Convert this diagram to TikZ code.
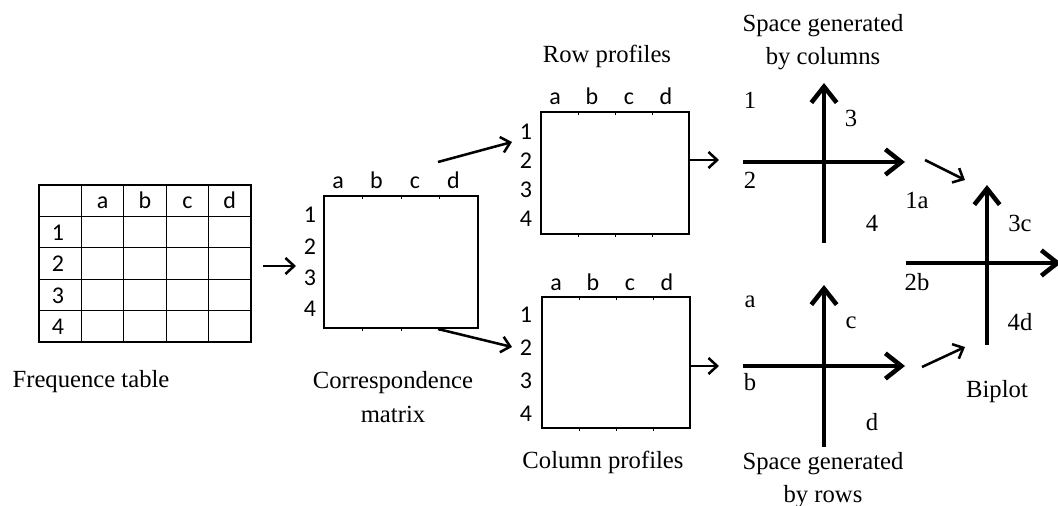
\documentclass[tikz,border=0pt]{standalone}
\usepackage{fontspec}
\setmainfont{Liberation Serif}
\newfontfamily\calibri{Carlito}
\usetikzlibrary{positioning, arrows.meta, calc}

\begin{document}
\begin{tikzpicture}[
    x=0.75pt, y=-0.75pt,
    >={Straight Barb[length=6.5pt, width=12pt]},
    txt/.style={font=\fontsize{18.5}{25}\selectfont, align=center},
    lab/.style={font=\calibri\fontsize{18}{22}\selectfont, text height=14pt, text depth=2pt},
    box/.style={draw, line width=0.8pt, inner sep=0pt},
    link/.style={->, line width=1.9pt},
    axis/.style={->, line width=3.4pt, >={Straight Barb[length=12pt, width=19pt]}}
]
\useasboundingbox (0,0) rectangle (1058,506);

% frequence table
\node[box, minimum width=159pt, minimum height=117.75pt] (freq) at (145,263.5) {};
\foreach \i in {1,...,4} {
    \draw[line width=0.8pt] (39+42.4*\i,185) -- (39+42.4*\i,342);
    \draw[line width=0.8pt] (39,185+31.4*\i) -- (251,185+31.4*\i);
}
\foreach \c [count=\i] in {a,b,c,d}
    \node[lab] at (60.2+42.4*\i,201) {\c};
\foreach \r in {1,...,4}
    \node[lab] at (58,201+31.4*\r) {\r};
\node[txt] (freqcap) at (91,382) {Frequence table};

% correspondence matrix
\node[box, minimum width=115.5pt, minimum height=99pt] (corr) at (401,262) {};
\foreach \c [count=\i] in {a,b,c,d}
    \node[lab] at (299.5+38.5*\i,181) {\c};
\foreach \r in {1,...,4}
    \node[lab] at (310,183.7+31.3*\r) {\r};
\foreach \i in {1,2,3} {
    \draw (324+38.5*\i,196) -- ++(0,3);
    \draw (324+38.5*\i,328) -- ++(0,3);
}
\node[txt] (corrcap) at (393,397) {Correspondence\\matrix};

% row profiles
\node[box, minimum width=111pt, minimum height=91.5pt] (rowp) at (615,173) {};
\foreach \c [count=\i] in {a,b,c,d}
    \node[lab] at (518+37*\i,97) {\c};
\foreach \r in {1,...,4}
    \node[lab] at (526,103+29*\r) {\r};
\foreach \i in {1,2,3} {
    \draw (541+37*\i,112) -- ++(0,3);
    \draw (541+37*\i,234) -- ++(0,3);
}
\node[txt] (rowcap) at (607,56) {Row profiles};

% column profiles
\node[box, minimum width=111pt, minimum height=98.25pt] (colp) at (616,362.5) {};
\foreach \c [count=\i] in {a,b,c,d}
    \node[lab] at (519+37*\i,283) {\c};
\foreach \r in {1,...,4}
    \node[lab] at (526,282.3+32.7*\r) {\r};
\foreach \i in {1,2,3} {
    \draw (542+37*\i,297) -- ++(0,3);
    \draw (542+37*\i,428) -- ++(0,3);
}
\node[txt] (colcap) at (603,462) {Column profiles};

% axis ends
\coordinate (cl) at (743,162);  \coordinate (cr) at (905,162);
\coordinate (cb) at (824,243);  \coordinate (ct) at (824,83);
\coordinate (rl) at (743,366);  \coordinate (rr) at (905,366);
\coordinate (rb) at (824,447);  \coordinate (rt) at (824,285);
\coordinate (bl) at (906,263);  \coordinate (br) at (1061,263);
\coordinate (bb) at (987,345);  \coordinate (bt) at (987,185);

% space generated by columns
\draw[axis] (cl) -- (cr);
\draw[axis] (cb) -- (ct);
\node[txt] (colspace) at (823,42) {Space generated\\by columns};
\node[txt] at (750,100) {1};
\node[txt] at (851,118) {3};
\node[txt] at (750,180) {2};
\node[txt] at (872,223) {4};

% space generated by rows
\draw[axis] (rl) -- (rr);
\draw[axis] (rb) -- (rt);
\node[txt] (rowspace) at (823,480) {Space generated\\by rows};
\node[txt] at (750,302) {a};
\node[txt] at (851,323) {c};
\node[txt] at (750,382) {b};
\node[txt] at (872,422) {d};

% biplot
\draw[axis] (bl) -- (br);
\draw[axis] (bb) -- (bt);
\node[txt] (biplot) at (997,392) {Biplot};
\node[txt] at (917,200) {1a};
\node[txt] at (1020,223) {3c};
\node[txt] at (917,282) {2b};
\node[txt] at (1020,322) {4d};

% small arrows
\coordinate (a1) at (263,266);  \coordinate (a2) at (296,266);
\coordinate (b1) at (438,162);  \coordinate (b2) at (512,142);
\coordinate (c1) at (438,329);  \coordinate (c2) at (512,347);
\coordinate (d1) at (689,160);  \coordinate (d2) at (719,160);
\coordinate (e1) at (690,366);  \coordinate (e2) at (719,366);
\coordinate (f1) at (925,160);  \coordinate (f2) at (965,180);
\coordinate (g1) at (922,367);  \coordinate (g2) at (965,347);

\path[link]
    (a1) edge (a2)
    (b1) edge (b2)
    (c1) edge (c2)
    (d1) edge (d2)
    (e1) edge (e2)
    (f1) edge (f2)
    (g1) edge (g2);

\end{tikzpicture}
\end{document}
